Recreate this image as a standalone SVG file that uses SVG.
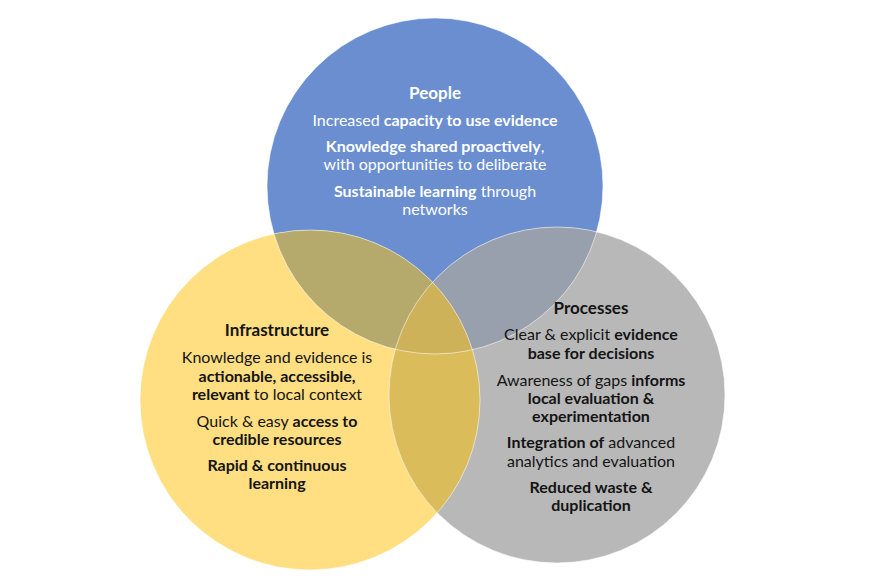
<svg xmlns="http://www.w3.org/2000/svg" width="869" height="580" viewBox="0 0 869 580">
<style>
text{font-family:Lato,"Open Sans","Liberation Sans",sans-serif;font-size:16px;text-anchor:middle}
.b{font-weight:bold}
.h{font-weight:bold;font-size:17px}
.w{fill:#ffffff}
.k{fill:#141414}
.edge{fill:none;stroke:#ffffff;stroke-opacity:0.55;stroke-width:1}
</style>
<defs>
<clipPath id="cP"><circle cx="435" cy="186" r="168"/></clipPath>
<clipPath id="cI"><circle cx="310" cy="400" r="170"/></clipPath>
<clipPath id="cR"><circle cx="557" cy="395" r="168"/></clipPath>
</defs>
<rect width="869" height="580" fill="#ffffff"/>
<g id="people-circle"><circle cx="435" cy="186" r="168" fill="#6a8ecf"/></g>
<g id="infrastructure-circle"><circle cx="310" cy="400" r="170" fill="#ffdf82"/></g>
<g id="processes-circle"><circle cx="557" cy="395" r="168" fill="#b8b8b8"/></g>
<g id="overlaps">
<g clip-path="url(#cP)"><circle cx="310" cy="400" r="170" fill="#b5a96b"/></g>
<g clip-path="url(#cP)"><circle cx="557" cy="395" r="168" fill="#99a0ad"/></g>
<g clip-path="url(#cI)"><circle cx="557" cy="395" r="168" fill="#dbbc5b"/></g>
<g clip-path="url(#cI)"><g clip-path="url(#cP)"><circle cx="557" cy="395" r="168" fill="#cdb25a"/></g></g>
</g>
<g id="edges">
<circle class="edge" cx="435" cy="186" r="168"/>
<circle class="edge" cx="310" cy="400" r="170"/>
<circle class="edge" cx="557" cy="395" r="168"/>
</g>
<g id="people-text" class="w">
<text class="h w" x="435" y="99">People</text>
<text class="w" x="435" y="126">Increased <tspan class="b">capacity to use evidence</tspan></text>
<text class="w" x="435" y="152"><tspan class="b">Knowledge shared proactively</tspan>,</text>
<text class="w" x="435" y="170">with opportunities to deliberate</text>
<text class="w" x="435" y="197"><tspan class="b">Sustainable learning</tspan> through</text>
<text class="w" x="435" y="215">networks</text>
</g>
<g id="infrastructure-text">
<text class="h k" x="277" y="336">Infrastructure</text>
<text class="k" x="277" y="363">Knowledge and evidence is</text>
<text class="k b" x="277" y="382">actionable, accessible,</text>
<text class="k" x="277" y="400"><tspan class="b">relevant</tspan> to local context</text>
<text class="k" x="277" y="427">Quick &amp; easy <tspan class="b">access to</tspan></text>
<text class="k b" x="277" y="445">credible resources</text>
<text class="k b" x="277" y="471">Rapid &amp; continuous</text>
<text class="k b" x="277" y="489">learning</text>
</g>
<g id="processes-text">
<text class="h k" x="591" y="314">Processes</text>
<text class="k" x="591" y="340">Clear &amp; explicit <tspan class="b">evidence</tspan></text>
<text class="k b" x="591" y="359">base for decisions</text>
<text class="k" x="591" y="386">Awareness of gaps <tspan class="b">informs</tspan></text>
<text class="k b" x="591" y="404">local evaluation &amp;</text>
<text class="k b" x="591" y="422">experimentation</text>
<text class="k" x="591" y="448"><tspan class="b">Integration of</tspan> advanced</text>
<text class="k" x="591" y="467">analytics and evaluation</text>
<text class="k b" x="591" y="493">Reduced waste &amp;</text>
<text class="k b" x="591" y="511">duplication</text>
</g>
</svg>
